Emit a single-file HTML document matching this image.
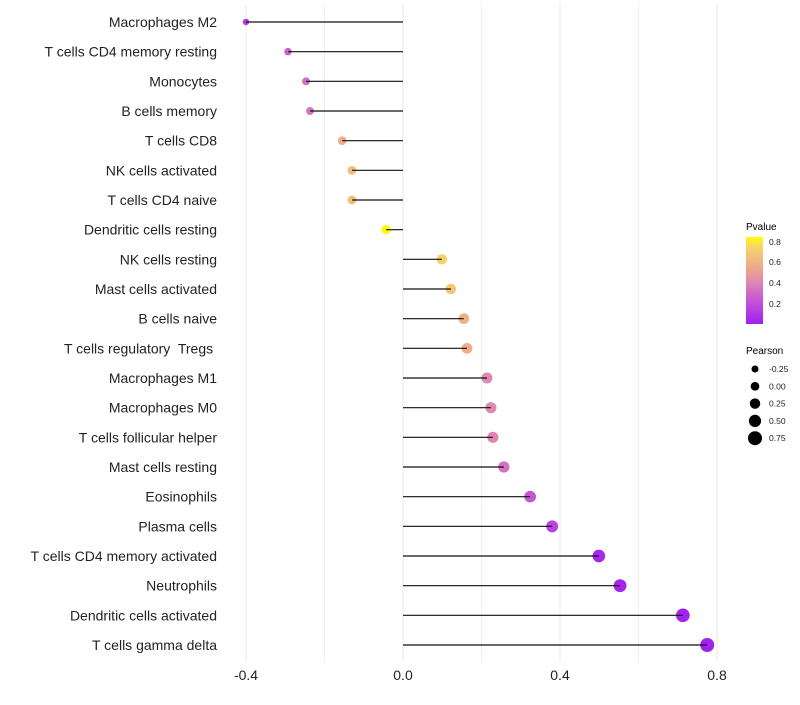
<!DOCTYPE html>
<html><head><meta charset="utf-8"><style>
body{margin:0;background:#fff;}
svg text{font-family:"Liberation Sans",sans-serif;white-space:pre;}
</style></head><body>
<svg id="chart" width="800" height="700" xmlns="http://www.w3.org/2000/svg">
<defs><linearGradient id="pg" x1="0" y1="1" x2="0" y2="0">
<stop offset="0" stop-color="#a020f0"/><stop offset="0.3" stop-color="#c85cd0"/><stop offset="0.5" stop-color="#e08cb0"/><stop offset="0.65" stop-color="#eea888"/><stop offset="0.8" stop-color="#f4c478"/><stop offset="0.9" stop-color="#f8d860"/><stop offset="1" stop-color="#ffff00"/></linearGradient></defs>
<g id="grid"></g><g id="marks"></g><g id="labels"></g>
<g>
<text x="746" y="230" font-size="10">Pvalue</text>
<rect x="746" y="237" width="17" height="87" fill="url(#pg)"/>
<g font-size="8.5" fill="#222">
<text x="769" y="245">0.8</text><text x="769" y="265">0.6</text><text x="769" y="286">0.4</text><text x="769" y="307">0.2</text></g>
</g>
<g>
<text x="746" y="354" font-size="10">Pearson</text>
<g id="sizeleg"></g>
</g>
</svg>
<script>
const categories=["Macrophages M2","T cells CD4 memory resting","Monocytes","B cells memory","T cells CD8","NK cells activated","T cells CD4 naive","Dendritic cells resting","NK cells resting","Mast cells activated","B cells naive","T cells regulatory  Tregs ","Macrophages M1","Macrophages M0","T cells follicular helper","Mast cells resting","Eosinophils","Plasma cells","T cells CD4 memory activated","Neutrophils","Dendritic cells activated","T cells gamma delta"];
const pearson=[-0.40,-0.293,-0.247,-0.237,-0.155,-0.13,-0.13,-0.043,0.099,0.122,0.155,0.163,0.214,0.224,0.229,0.257,0.324,0.38,0.499,0.553,0.713,0.775];
const pvalue=[0.12,0.28,0.33,0.36,0.58,0.66,0.66,0.85,0.74,0.7,0.6,0.58,0.42,0.42,0.41,0.34,0.24,0.16,0.04,0.03,0.02,0.01];
const xTicks=[-0.4,0,0.4,0.8];
const xTickLabels=["-0.4","0.0","0.4","0.8"];
const legendPearson=[-0.25,0,0.25,0.5,0.75];
const NS="http://www.w3.org/2000/svg";
const x=v=>403+v*392.5;
const y=i=>22+i*(623/21);
const r=v=>Math.max(1.5,Math.sqrt(Math.max(0,23.6+32.7*v)));
const stops=[[0,[160,32,240]],[0.3,[200,92,208]],[0.5,[224,140,176]],[0.65,[238,168,136]],[0.8,[244,196,120]],[0.9,[248,216,96]],[1,[255,255,0]]];
function col(p){let t=Math.max(0,Math.min(1,(p-0.006)/0.852));for(let k=1;k<stops.length;k++){if(t<=stops[k][0]){const a=stops[k-1],b=stops[k],f=(t-a[0])/(b[0]-a[0]);return "rgb("+a[1].map((c,j)=>Math.round(c+(b[1][j]-c)*f)).join(",")+")";}}return "rgb(255,255,0)";}
function mk(tag,at,parent){const e=document.createElementNS(NS,tag);for(const k in at)e.setAttribute(k,at[k]);parent.appendChild(e);return e;}
const grid=document.getElementById('grid'),marks=document.getElementById('marks'),labels=document.getElementById('labels');
[-0.2,0.2,0.6].forEach(v=>{const l=mk('line',{x1:x(v),x2:x(v),y1:5,y2:662,stroke:'#f0f0f0','stroke-width':1},grid);

});
xTicks.forEach((v,i)=>{const l=mk('line',{x1:x(v),x2:x(v),y1:5,y2:662,stroke:'#e8e8e8','stroke-width':1},grid);


const t=mk('text',{x:x(v),y:680,'text-anchor':'middle','font-size':14,fill:'#222'},labels);t.textContent=xTickLabels[i];

});
categories.forEach((c,i)=>{const t=mk('text',{x:217,y:y(i)+5,'text-anchor':'end','font-size':14,fill:'#222'},labels);t.textContent=c;


const p=mk('circle',{cx:x(pearson[i]),cy:y(i),r:r(pearson[i]),fill:col(pvalue[i])},marks);


const s=mk('line',{x1:x(0),x2:x(pearson[i]),y1:y(i),y2:y(i),stroke:'#111','stroke-width':1.2},marks);

});
const sl=document.getElementById('sizeleg');
legendPearson.forEach((v,i)=>{const cy=369+i*17.3;const c=mk('circle',{cx:755,cy:cy,r:3.5+(v+0.25)*3.5,fill:'#000'},sl);


const t=mk('text',{x:769,y:cy+3,'font-size':8.5,fill:'#222'},sl);t.textContent=v.toFixed(2);

});
</script>
</body></html>
